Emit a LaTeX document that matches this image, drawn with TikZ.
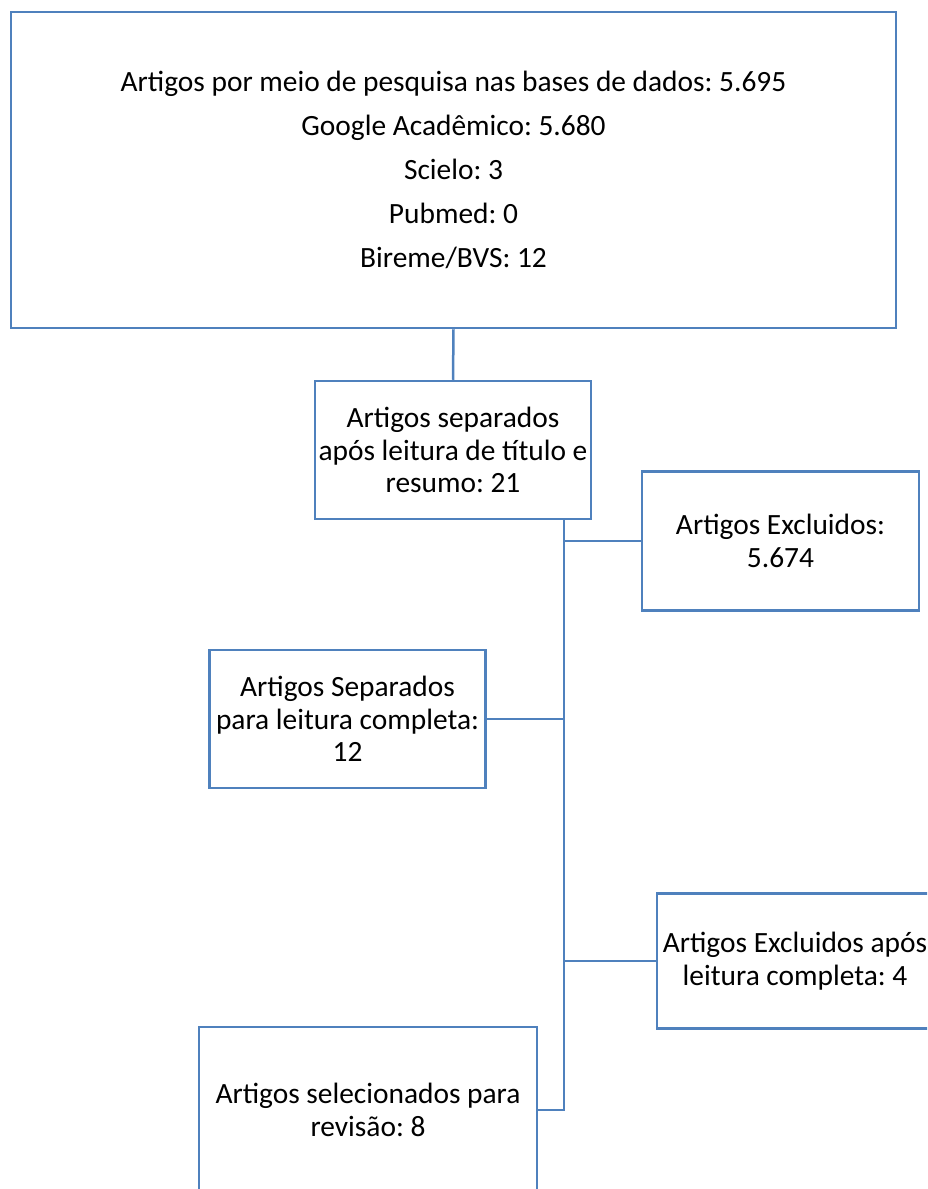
\documentclass[tikz,border=0pt]{standalone}
\usepackage{fontspec}
\setmainfont{Carlito}
\frenchspacing
\definecolor{azulborda}{HTML}{4F81BD}
\tikzset{
  caixa/.style={draw=azulborda, line width=2.5pt, align=center, inner sep=0pt,
    font=\fontsize{29.4}{32.5}\selectfont},
  ligacao/.style={draw=azulborda, line width=2.5pt}
}
\begin{document}
\begin{tikzpicture}[x=1pt,y=-1pt]

      % Area da figura
      \useasboundingbox (0,0) rectangle (927,1189);
      \clip (0,0) rectangle (927,1189);

      % Caixas
      \node[caixa, minimum width=885pt, minimum height=316pt,
        font=\fontsize{29.4}{44}\selectfont] (bases) at (453.5,170)
        {Artigos por meio de pesquisa nas bases de dados: 5.695\\
         Google Acadêmico: 5.680\\ Scielo: 3\\ Pubmed: 0\\ Bireme/BVS: 12};
      \node[caixa, minimum width=276pt, minimum height=138pt] (leitura) at (453,450)
        {Artigos separados\\ após leitura de título e\\ resumo: 21};
      \node[caixa, minimum width=277pt, minimum height=139pt] (excluidos) at (780.5,541)
        {Artigos Excluidos:\\ 5.674};
      \node[caixa, minimum width=276pt, minimum height=138pt] (separados) at (347.5,719)
        {Artigos Separados\\ para leitura completa:\\ 12};
      \node[caixa, minimum width=276pt, minimum height=135pt] (excluidosfinal) at (795,961)
        {Artigos Excluidos após\\ leitura completa: 4};
      \node[caixa, minimum width=338pt, minimum height=166pt] (selecionados) at (368,1110)
        {Artigos selecionados para\\ revisão: 8};

      % Ligacoes
      \coordinate (tronco) at (564,519); % Inicio da linha vertical
      \draw[ligacao] (bases.south) -- (leitura.north);
      \draw[ligacao] (tronco) -- (tronco |- selecionados.east) -- (selecionados.east);
      \foreach \alvo/\lado in {excluidos/west, separados/east, excluidosfinal/west} { % Ramos
        \draw[ligacao] (tronco |- \alvo.\lado) -- (\alvo.\lado);
      }

    \end{tikzpicture}
\end{document}
